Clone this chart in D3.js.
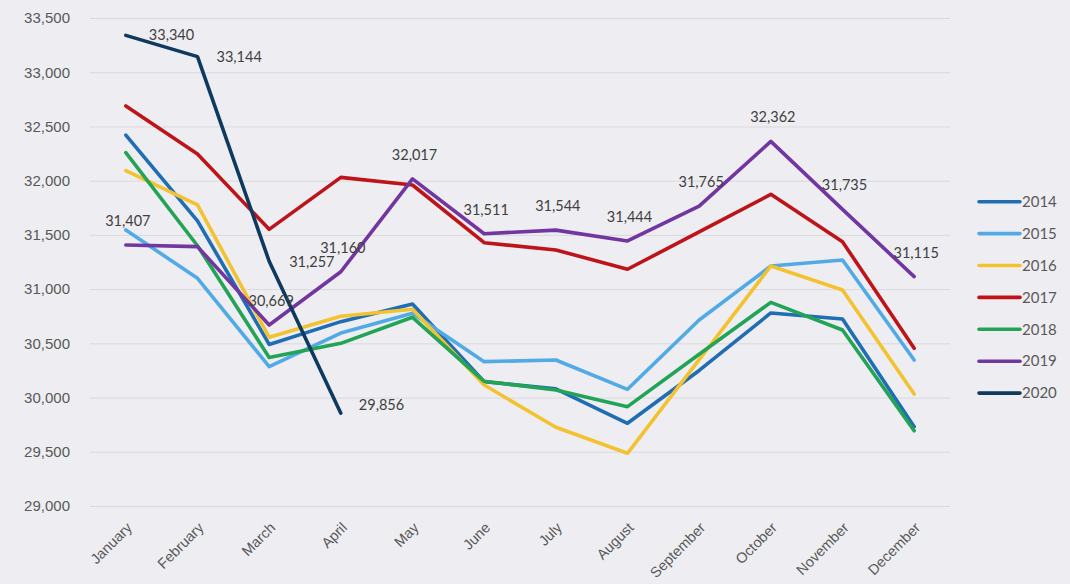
<!DOCTYPE html>
<html>
<head>
<meta charset="utf-8">
<script src="https://cdn.jsdelivr.net/npm/d3@7"></script>
<style>
  html, body { margin: 0; padding: 0; background: #eeeef2; }
  svg { display: block; }
</style>
</head>
<body>
<div id="chart"></div>
<script>
const months = ["January", "February", "March", "April", "May", "June",
    "July", "August", "September", "October", "November", "December"];

const years = ["2014", "2015", "2016", "2017", "2018", "2019", "2020"];

const values2014 = [32420, 31630, 30490, 30700, 30863, 30146, 30080, 29763, 30250, 30780, 30724, 29731];
const values2015 = [31545, 31100, 30285, 30595, 30777, 30331, 30346, 30076, 30715, 31213, 31268, 30346];
const values2016 = [32092, 31776, 30556, 30750, 30814, 30116, 29726, 29486, 30350, 31213, 30992, 30033];
const values2017 = [32689, 32246, 31551, 32030, 31960, 31428, 31361, 31183, 31527, 31874, 31437, 30454];
const values2018 = [32258, 31400, 30370, 30500, 30740, 30150, 30070, 29916, 30400, 30878, 30623, 29694];
const values2019 = [31407, 31392, 30669, 31160, 32017, 31511, 31544, 31444, 31765, 32362, 31735, 31115];
const values2020 = [33340, 33144, 31257, 29856];

// months of 2019 that carry a data label (February has none in the original)
const labelled2019 = [0, 2, 3, 4, 5, 6, 7, 8, 9, 10, 11];

const yTicks = [29000, 29500, 30000, 30500, 31000, 31500, 32000, 32500, 33000, 33500];

const seriesValues = [values2014, values2015, values2016, values2017, values2018, values2019, values2020];
const seriesColors = ["#1f6db3", "#52aae4", "#f3c230", "#bd1419", "#22a355", "#7236a0", "#0d3a5e"];

const width = 1070;
const height = 584;
const plot = { left: 90, right: 950, top: 18, bottom: 506 };

const svg = d3.select("#chart")
    .append("svg")
    .attr("width", width)
    .attr("height", height)
    .attr("font-family", "Lato, 'Open Sans', sans-serif");

svg.append("rect")
    .attr("width", width)
    .attr("height", height)
    .attr("fill", "#eeeef2");

const x = d3.scalePoint()
    .domain(months)
    .range([plot.left, plot.right])
    .padding(0.5);

const y = d3.scaleLinear()
    .domain([29000, 33500])
    .range([plot.bottom, plot.top]);

// gridlines + y labels
const yAxis = svg.append("g")
    .attr("transform", `translate(${plot.left},0)`)
    .call(d3.axisLeft(y)
        .tickValues(yTicks)
        .tickSize(-(plot.right - plot.left))
        .tickPadding(20)
        .tickFormat(d3.format(",")));

yAxis.select(".domain").remove();
yAxis.selectAll(".tick line")
    .attr("stroke", "#d9d9dd")
    .attr("stroke-width", 1);
yAxis.selectAll(".tick text")
    .attr("fill", "#595959")
    .attr("font-size", "15px");

// x labels
const xAxis = svg.append("g")
    .attr("transform", `translate(0,${plot.bottom})`)
    .call(d3.axisBottom(x).tickSize(0));

xAxis.select(".domain").remove();
xAxis.selectAll(".tick text")
    .attr("fill", "#595959")
    .attr("font-size", "14.5px")
    .attr("text-anchor", "end")
    .attr("dy", "0.35em")
    .attr("y", 0)
    .attr("transform", "translate(3,19) rotate(-45)");

// lines
const line = d3.line()
    .x((d, i) => x(months[i]))
    .y(d => y(d));

svg.append("g")
    .selectAll("path")
    .data(seriesValues)
    .join("path")
    .attr("d", d => line(d))
    .attr("fill", "none")
    .attr("stroke", (d, i) => seriesColors[i])
    .attr("stroke-width", 3.6)
    .attr("stroke-linejoin", "round")
    .attr("stroke-linecap", "round");

// data labels: 2019 centered above, 2020 to the right
const labelFmt = d3.format(",");

svg.append("g")
    .selectAll("text")
    .data(labelled2019)
    .join("text")
    .attr("x", i => x(months[i]) + 2)
    .attr("y", i => y(values2019[i]) - 24)
    .attr("dy", "0.35em")
    .attr("text-anchor", "middle")
    .attr("font-size", "14.5px")
    .attr("fill", "#404040")
    .text(i => labelFmt(values2019[i]));

const navyNudge = [[23, 0], [19, 0], [20, 1], [18, -8]];

svg.append("g")
    .selectAll("text")
    .data(values2020)
    .join("text")
    .attr("x", (d, i) => x(months[i]) + navyNudge[i][0])
    .attr("y", (d, i) => y(d) + navyNudge[i][1])
    .attr("dy", "0.35em")
    .attr("font-size", "14.5px")
    .attr("fill", "#404040")
    .text(d => labelFmt(d));

// legend
const legend = svg.append("g")
    .selectAll("g")
    .data(years)
    .join("g")
    .attr("transform", (d, i) => `translate(979,${201.7 + i * 31.9})`);

legend.append("line")
    .attr("x1", 0)
    .attr("x2", 41)
    .attr("stroke", (d, i) => seriesColors[i])
    .attr("stroke-width", 3.6)
    .attr("stroke-linecap", "round");

legend.append("text")
    .attr("x", 43)
    .attr("dy", "0.35em")
    .attr("font-size", "15px")
    .attr("fill", "#595959")
    .text(d => d);
</script>
</body>
</html>
